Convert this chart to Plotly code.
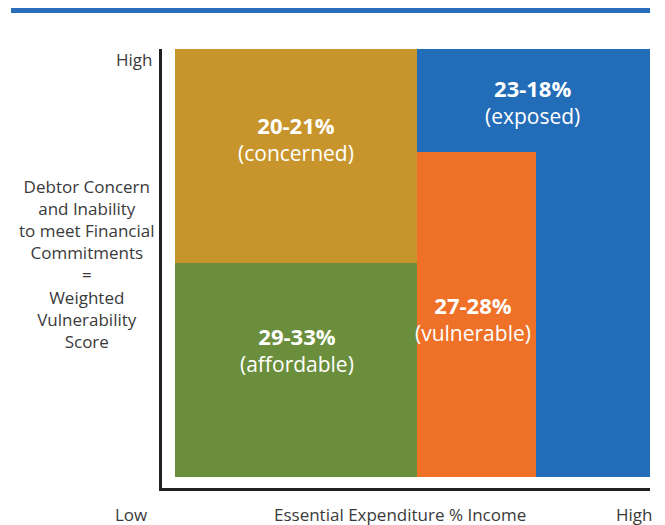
import plotly.graph_objects as go

# ---- data ----
segments = ["exposed", "vulnerable", "concerned", "affordable"]
ranges = ["23-18%", "27-28%", "20-21%", "29-33%"]
x_start = [51, 51, 0, 0]      # essential expenditure share (relative scale)
x_end = [100, 76, 51, 51]
y_start = [0, 0, 50, 0]       # weighted vulnerability score (relative scale)
y_end = [100, 76, 100, 50]
colors = ["#236CB7", "#EE7127", "#C8952C", "#6A8E3C"]

# label anchor points (data units)
label_x = [75.2, 62.7, 25.5, 25.7]
label_y = [87.7, 37.0, 79.1, 29.9]

FONT = "Open Sans"
AXIS_TXT = "#3a3a3a"

fig = go.Figure()
for i in range(len(segments)):
    fig.add_trace(go.Bar(
        x=[(x_start[i] + x_end[i]) / 2],
        width=[x_end[i] - x_start[i]],
        base=[y_start[i]],
        y=[y_end[i] - y_start[i]],
        marker=dict(color=colors[i], line=dict(width=0)),
        name=segments[i],
        hoverinfo="skip",
        showlegend=False,
    ))

ann = []
for i in range(len(segments)):
    ann.append(dict(x=label_x[i], y=label_y[i], xref="x", yref="y",
                    xanchor="center", yanchor="middle", align="center",
                    text="<span style='font-size:22px'><b>" + ranges[i] + "</b></span><br>(" + segments[i] + ")",
                    showarrow=False,
                    font=dict(family=FONT, size=21, color="white")))

axis_font = dict(family=FONT, size=17, color=AXIS_TXT)
def pann(x, y, text, font):
    return dict(x=x, y=y, xref="paper", yref="paper", text=text, showarrow=False,
                xanchor="center", yanchor="middle", align="center", font=font)

ann += [
    pann(-0.0584, 0.977, "High", axis_font),
    pann(-0.0635, -0.0615, "Low", axis_font),
    pann(0.967, -0.0615, "High", axis_font),
    pann(0.4887, -0.0615, "Essential Expenditure % Income", axis_font),
    pann(-0.1527, 0.51,
         "Debtor Concern<br>and Inability<br>to meet Financial<br>Commitments<br>=<br>Weighted<br>Vulnerability<br>Score",
         dict(family=FONT, size=17, color=AXIS_TXT)),
]

fig.update_layout(
    width=665, height=525,
    margin=dict(l=162, r=15, t=49, b=37),
    paper_bgcolor="white", plot_bgcolor="white",
    barmode="overlay", bargap=0,
    annotations=ann,
    shapes=[dict(type="line", xref="paper", yref="paper",
                 x0=-0.3094, x1=1.0, y0=1.0877, y1=1.0877,
                 line=dict(color="#2A6EBB", width=5))],
    xaxis=dict(range=[-2.74, 100], showline=True, linecolor="#231F20", linewidth=2.5,
               showgrid=False, zeroline=False, showticklabels=False, ticks="", fixedrange=True),
    yaxis=dict(range=[-2.57, 100], showline=True, linecolor="#231F20", linewidth=2.5,
               showgrid=False, zeroline=False, showticklabels=False, ticks="", fixedrange=True),
)

fig.write_html("out.html")
